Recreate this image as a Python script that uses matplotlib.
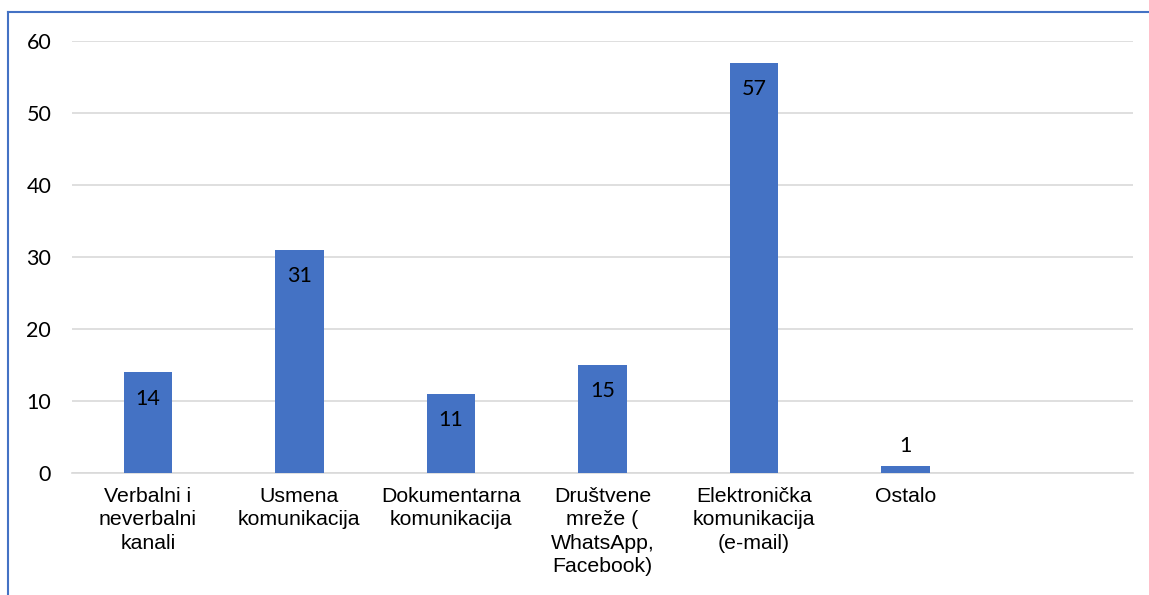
import matplotlib
matplotlib.use("Agg")
import matplotlib.pyplot as plt
from matplotlib.lines import Line2D

categories = ["Verbalni i\nneverbalni\nkanali", "Usmena\nkomunikacija", "Dokumentarna\nkomunikacija",
              "Društvene\nmreže (\nWhatsApp,\nFacebook)", "Elektronička\nkomunikacija\n(e-mail)", "Ostalo", ""]
values = [14, 31, 11, 15, 57, 1, None]
yticks = [0, 10, 20, 30, 40, 50, 60]

W, H = 1149, 595
fig = plt.figure(figsize=(W / 100, H / 100), dpi=100)
ax = fig.add_axes([72 / W, 1 - 473 / H, (1133 - 72) / W, (473 - 41) / H])

bar_color = "#4472C4"
xs = list(range(len(categories)))
bx = [x for x, v in zip(xs, values) if v is not None]
bv = [v for v in values if v is not None]
ax.bar(bx, bv, width=0.32, color=bar_color, zorder=3)

for x, v in zip(bx, bv):
    if v >= 5:
        ax.annotate(str(v), (x, v), xytext=(0, -19), textcoords="offset points",
                    ha="center", va="center", fontsize=15.5, family="Lato", color="#000000", zorder=4)
    else:
        ax.annotate(str(v), (x, v), xytext=(0, 14), textcoords="offset points",
                    ha="center", va="center", fontsize=15.5, family="Lato", color="#000000", zorder=4)

ax.set_xlim(-0.5, len(categories) - 0.5)
ax.set_ylim(0, 60)
ax.set_yticks(yticks)
ax.set_yticklabels([str(t) for t in yticks], family="Lato", fontsize=15.5)
ax.set_xticks(xs)
ax.set_xticklabels(categories, family="Liberation Sans", fontsize=15.3, linespacing=1.3)
ax.tick_params(axis="y", length=0, pad=15)
ax.tick_params(axis="x", length=0, pad=10)
ax.grid(axis="y", color="#D9D9D9", linewidth=1.2, zorder=0)
for s in ["top", "right", "left"]:
    ax.spines[s].set_visible(False)
ax.spines["bottom"].set_color("#D9D9D9")
ax.spines["bottom"].set_linewidth(1.2)

# outer chart frame (left and top edges visible)
fig.add_artist(Line2D([8 / W, 8 / W], [0, 1 - 12 / H], color=bar_color, linewidth=1.5, transform=fig.transFigure))
fig.add_artist(Line2D([8 / W, 1], [1 - 12 / H, 1 - 12 / H], color=bar_color, linewidth=1.5, transform=fig.transFigure))

fig.savefig("out.png", dpi=100)
